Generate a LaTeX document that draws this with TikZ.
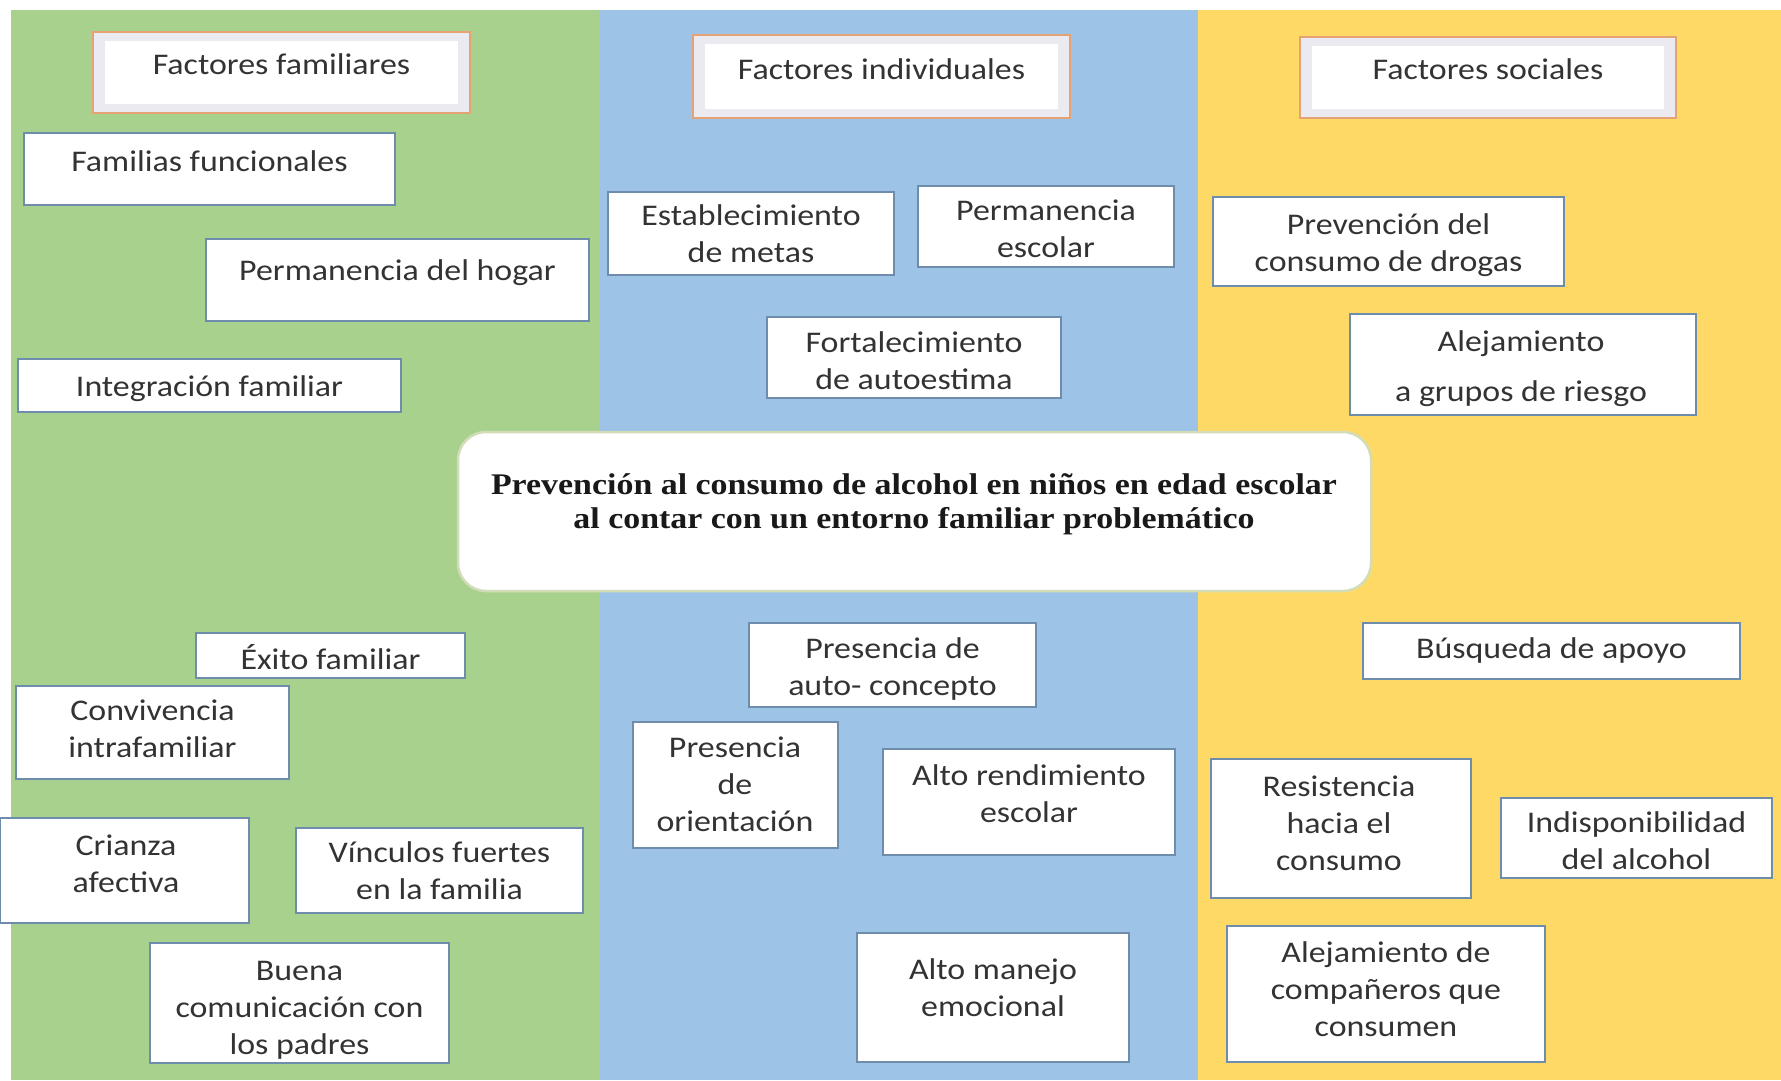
\documentclass[tikz,border=0pt]{standalone}
\usepackage{fontspec}
\setmainfont{Carlito}[FakeStretch=1.13]
\newfontfamily\titlefont{Liberation Serif}[FakeStretch=1.13]
\definecolor{bgreen}{HTML}{A9D18E}
\definecolor{bblue}{HTML}{9DC3E6}
\definecolor{byellow}{HTML}{FFD966}
\definecolor{boxline}{HTML}{6E8CAC}
\definecolor{hdrline}{HTML}{E5A275}
\definecolor{hdrband}{HTML}{EAEAF0}
\definecolor{txtcol}{HTML}{333333}
\definecolor{ctrline}{HTML}{D2DDB8}
\tikzset{
  boxn/.style={draw=boxline, line width=2pt, fill=white, inner sep=0pt},
  hdr/.style={draw=hdrline, line width=2pt, fill=hdrband, inner sep=0pt},
  hdrin/.style={draw=none, fill=white, inner sep=0pt},
  ctr/.style={draw=ctrline, line width=2.5pt, fill=white, rounded corners=28pt, inner sep=0pt},
  % the node is placed at the visual centre of its LAST line
  txt/.style={font=\fontsize{30}{37}\selectfont, text=txtcol, align=center, text height=18pt, text depth=0pt, inner sep=0pt},
  ttl/.style={font=\titlefont\bfseries\fontsize{30}{34}\selectfont, text=black!90, align=center, text height=18pt, text depth=0pt, inner sep=0pt},
}
\begin{document}
\begin{tikzpicture}[x=1pt,y=-1pt]
\useasboundingbox (0,0) rectangle (1781,1080);
\fill[white] (0,0) rectangle (1781,1080);
\fill[bgreen] (11,10) rectangle (599,1080);
\fill[bblue] (599,10) rectangle (1198,1080);
\fill[byellow] (1198,10) rectangle (1781,1080);

% ---- headers
\node[hdr, minimum width=377pt, minimum height=81pt] (hfam) at (281.5,72.5) {};
\node[hdrin, minimum width=353pt, minimum height=63pt] (hfamin) at (hfam) {};
\node[txt] (hfamt) at (281.5,65) {Factores familiares};

\node[hdr, minimum width=377pt, minimum height=83pt] (hind) at (881.5,76.5) {};
\node[hdrin, minimum width=353pt, minimum height=65pt] (hindin) at (hind) {};
\node[txt] (hindt) at (881.5,70) {Factores individuales};

\node[hdr, minimum width=376pt, minimum height=81pt] (hsoc) at (1488,77.5) {};
\node[hdrin, minimum width=352pt, minimum height=63pt] (hsocin) at (hsoc) {};
\node[txt] (hsoct) at (1488,70) {Factores sociales};

% ---- green column
\node[boxn, minimum width=371pt, minimum height=72pt] (b1) at (209.5,169) {};
\node[txt] (b1t) at (209.5,162) {Familias funcionales};

\node[boxn, minimum width=383pt, minimum height=82pt] (b2) at (397.5,280) {};
\node[txt] (b2t) at (397.5,271) {Permanencia del hogar};

\node[boxn, minimum width=383pt, minimum height=53pt] (b3) at (209.5,385.5) {};
\node[txt] (b3t) at (209.5,387) {Integración familiar};

\node[boxn, minimum width=269pt, minimum height=45pt] (b4) at (330.5,655.5) {};
\node[txt] (b4t) at (330.5,660) {Éxito familiar};

\node[boxn, minimum width=273pt, minimum height=93pt] (b5) at (152.5,732.5) {};
\node[txt] (b5t) at (152.5,748) {Convivencia\\intrafamiliar};

\node[boxn, minimum width=249pt, minimum height=105pt] (b6) at (124.5,870.5) {};
\node[txt] (b6t) at (126,883) {Crianza\\afectiva};

\node[boxn, minimum width=287pt, minimum height=85pt] (b7) at (439.5,870.5) {};
\node[txt] (b7t) at (439.5,890) {Vínculos fuertes\\en la familia};

\node[boxn, minimum width=299pt, minimum height=120pt] (b8) at (299.5,1003) {};
\node[txt] (b8t) at (299.5,1045) {Buena\\comunicación con\\los padres};

% ---- blue column
\node[boxn, minimum width=286pt, minimum height=83pt] (c1) at (751,233.5) {};
\node[txt] (c1t) at (751,253) {Establecimiento\\de metas};

\node[boxn, minimum width=256pt, minimum height=81pt] (c2) at (1046,226.5) {};
\node[txt] (c2t) at (1046,248) {Permanencia\\escolar};

\node[boxn, minimum width=294pt, minimum height=81pt] (c3) at (914,357.5) {};
\node[txt] (c3t) at (914,380) {Fortalecimiento\\de autoestima};

\node[boxn, minimum width=287pt, minimum height=84pt] (c4) at (892.5,665) {};
\node[txt] (c4t) at (892.5,686) {Presencia de\\auto- concepto};

\node[boxn, minimum width=205pt, minimum height=126pt] (c5) at (735.5,785) {};
\node[txt] (c5t) at (735,822) {Presencia\\de\\orientación};

\node[boxn, minimum width=292pt, minimum height=106pt] (c6) at (1029,802) {};
\node[txt] (c6t) at (1029,813) {Alto rendimiento\\escolar};

\node[boxn, minimum width=272pt, minimum height=129pt] (c7) at (993,997.5) {};
\node[txt] (c7t) at (993,1007) {Alto manejo\\emocional};

% ---- yellow column
\node[boxn, minimum width=351pt, minimum height=89pt] (d1) at (1388.5,241.5) {};
\node[txt] (d1t) at (1388.5,262) {Prevención del\\consumo de drogas};

\node[boxn, minimum width=346pt, minimum height=101pt] (d2) at (1523,364.5) {};
\node[txt] (d2t) at (1521,392) {Alejamiento\\[13pt]a grupos de riesgo};

\node[boxn, minimum width=377pt, minimum height=56pt] (d3) at (1551.5,651) {};
\node[txt] (d3t) at (1551.5,649) {Búsqueda de apoyo};

\node[boxn, minimum width=260pt, minimum height=139pt] (d4) at (1341,828.5) {};
\node[txt] (d4t) at (1339,861) {Resistencia\\hacia el\\consumo};

\node[boxn, minimum width=271pt, minimum height=80pt] (d5) at (1636.5,838) {};
\node[txt] (d5t) at (1636.5,860) {Indisponibilidad\\del alcohol};

\node[boxn, minimum width=318pt, minimum height=136pt] (d6) at (1386,994) {};
\node[txt] (d6t) at (1386,1027) {Alejamiento de\\compañeros que\\consumen};

% ---- center
\node[ctr, minimum width=913pt, minimum height=159pt] (ctr) at (914.5,511.5) {};
\node[ttl] (ctrt) at (914,519) {Prevención al consumo de alcohol en niños en edad escolar\\al contar con un entorno familiar problemático};
\end{tikzpicture}
\end{document}
